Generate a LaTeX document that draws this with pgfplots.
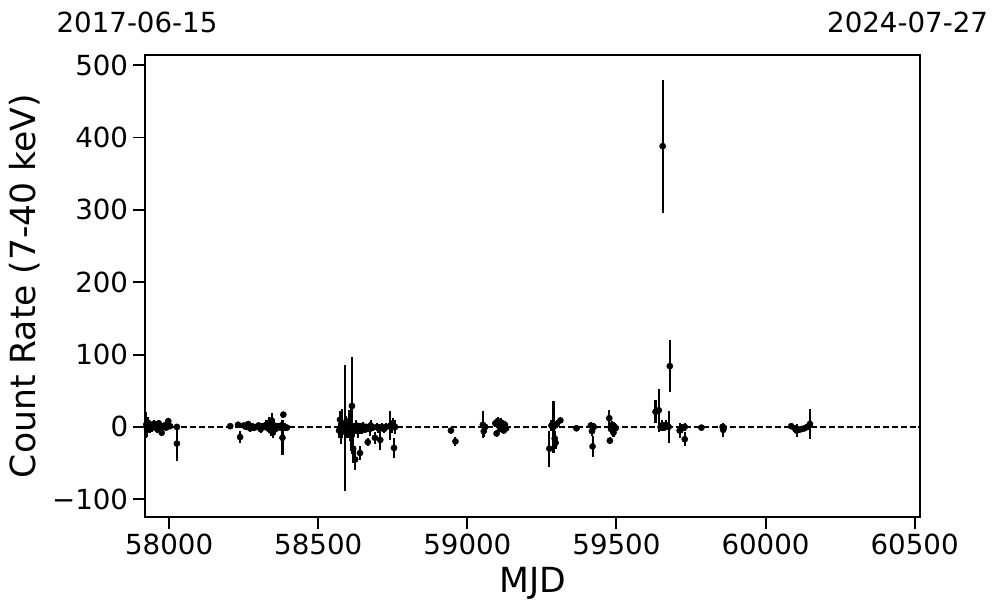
\documentclass[border=0pt]{standalone}
\usepackage{fontspec}
\setmainfont{DejaVu Sans}
\usepackage{pgfplots}
\pgfplotsset{compat=1.18}
\usepackage{pgfplotstable}
\pgfplotstableread{
x y e
57923 3 18
57926 -4 10
57929 6 8
57932 1 6
57936 -2 7
57940 2 5
57944 -1 6
57948 4 5
57952 0 4
57956 2 6
57960 -3 5
57965 5 4
57970 1 5
57975 -8 5
57980 0 4
57985 2 5
57990 -1 4
57997 8 5
58003 1 4
58026 0 4
58026 -23 24
58205 1 3
58231 3 4
58238 -14 8
58250 2 4
58258 0 3
58265 4 4
58272 -2 5
58278 1 3
58285 -1 4
58292 0 3
58300 2 4
58307 -3 5
58313 1 4
58320 0 3
58326 3 6
58332 -2 5
58336 6 8
58340 -5 7
58344 9 10
58348 -8 8
58352 2 6
58356 -3 4
58360 0 5
58365 1 4
58371 -1 3
58376 2 4
58380 -15 24
58383 17 4
58388 0 5
58395 -1 3
58570 -5 10
58573 10 12
58576 -8 15
58580 5 20
58584 0 8
58590 -2 87
58594 3 12
58598 -6 10
58602 8 15
58606 1 20
58610 -3 30
58613 29 67
58617 -30 20
58620 -4 10
58624 -45 14
58628 2 8
58632 -6 10
58636 0 6
58640 -36 10
58645 -2 8
58650 1 6
58656 -4 5
58662 0 4
58666 -21 6
58672 -3 10
58676 2 7
58682 -1 5
58690 -15 8
58696 0 6
58702 -2 6
58708 -18 14
58714 0 5
58720 -3 6
58728 0 5
58742 2 20
58746 -1 8
58750 5 8
58754 -29 14
58758 0 10
58945 -5 4
58960 -20 6
59052 3 19
59055 -6 8
59060 0 5
59094 5 5
59098 -9 5
59102 8 6
59106 2 8
59110 -3 4
59114 6 6
59118 0 5
59122 -5 4
59126 3 5
59130 -2 4
59275 -30 25
59282 2 8
59289 0 36
59293 -16 10
59296 -22 8
59300 4 5
59312 9 4
59366 -2 4
59414 2 5
59418 -6 6
59420 -27 15
59424 0 5
59476 12 12
59478 -19 5
59482 -3 6
59486 3 5
59490 -8 6
59494 0 5
59497 -2 4
59631 21 16
59642 23 30
59648 0 6
59652 2 8
59655 388 92
59660 -1 5
59665 3 6
59675 0 22
59679 84 36
59712 -5 11
59720 -2 6
59729 0 5
59729 -17 10
59785 -1 3
59856 0 6
59858 -4 10
59860 -1 5
60086 1 3
60100 -3 5
60104 -5 9
60112 -4 4
60120 -3 4
60130 -2 3
60140 0 4
60149 4 21
}\datatable
\begin{document}
\begin{tikzpicture}
\begin{axis}[
  scale only axis,
  width=7.75in, height=4.62in,
  xmin=57919, xmax=60518,
  ymin=-124.5, ymax=514,
  scaled x ticks=false, scaled y ticks=false,
  xtick={58000,58500,59000,59500,60000,60500},
  xticklabels={58000,58500,59000,59500,60000,60500},
  ytick={-100,0,100,200,300,400,500},
  yticklabels={−100,0,100,200,300,400,500},
  tick label style={font=\fontsize{20}{24}\selectfont},
  label style={font=\fontsize{25}{30}\selectfont},
  xlabel={MJD},
  ylabel={Count Rate (7-40 keV)},
  xlabel style={yshift=-2pt},
  ylabel style={yshift=2pt},
  tick align=outside,
  xtick pos=bottom, ytick pos=left,
  major tick length=0.12in,
  every tick/.style={black, line width=1.4pt},
  axis line style={line width=0.8pt},
  minor tick num=0,
  clip=false,
]
\addplot[black, dashed, dash pattern=on 4.5pt off 2pt, line width=1pt] coordinates {(57919,0) (60518,0)};
\addplot[only marks, mark=*, mark size=2.2pt, black,
  error bars/.cd, y dir=both, y explicit, error mark=none,
  error bar style={line width=1.5pt, black}]
  table[x=x, y=y, y error=e] {\datatable};
\node[anchor=base, font=\fontsize{20}{24}\selectfont] at (rel axis cs:-0.0103,1) [yshift=0.23in] {2017-06-15};
\node[anchor=base, font=\fontsize{20}{24}\selectfont] at (rel axis cs:0.984,1) [yshift=0.23in] {2024-07-27};
\end{axis}
\pgfresetboundingbox
\path[use as bounding box] (-1.45in,-0.96in) rectangle (8.52in,5.17in);
\end{tikzpicture}
\end{document}
